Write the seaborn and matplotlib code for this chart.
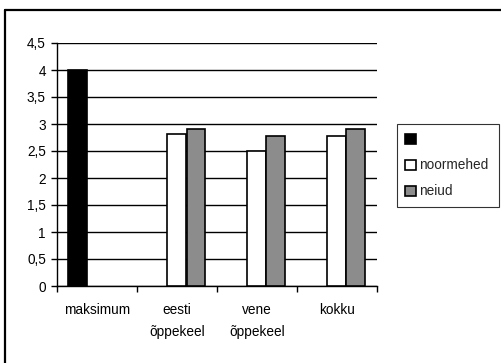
import matplotlib
matplotlib.use("Agg")
import matplotlib.pyplot as plt
from matplotlib.lines import Line2D
from matplotlib.patches import Patch
import seaborn as sns
import pandas as pd

categories = ["maksimum", "eesti\nõppekeel", "vene\nõppekeel", "kokku"]
series = ["", "noormehed", "neiud"]
maksimum = [4.0, None, None, None]
noormehed = [None, 2.82, 2.5, 2.78]
neiud = [None, 2.9, 2.78, 2.9]
yticks = [0, 0.5, 1, 1.5, 2, 2.5, 3, 3.5, 4, 4.5]
ytick_labels = ["0", "0,5", "1", "1,5", "2", "2,5", "3", "3,5", "4", "4,5"]
colors = ["#000000", "#ffffff", "#8c8c8c"]

rows = []
for name, vals in zip(series, [maksimum, noormehed, neiud]):
    for cat, v in zip(categories, vals):
        if v is not None:
            rows.append({"kategooria": cat, "rühm": name, "väärtus": v})
df = pd.DataFrame(rows)

sns.set_theme(style="white")
plt.rcParams["font.family"] = ["Liberation Sans", "DejaVu Sans"]
plt.rcParams["font.size"] = 10
FS = 9.8

W, H = 502, 363
fig = plt.figure(figsize=(W / 100, H / 100), dpi=100)
ax = fig.add_axes([57 / W, (H - 286) / H, 320 / W, 243 / H])

sns.barplot(data=df, x="kategooria", y="väärtus", hue="rühm",
            order=categories, hue_order=series, palette=colors,
            width=0.7125, edgecolor="black", linewidth=1.2,
            legend=False, ax=ax, zorder=3)

ax.set_xlim(-0.5, len(categories) - 0.5)
ax.set_ylim(0, 4.5)
ax.set_yticks(yticks)
ax.set_yticklabels(ytick_labels)
ax.yaxis.grid(True, color="black", linewidth=1.0, zorder=0)
ax.set_axisbelow(True)
ax.set_xlabel("")
ax.set_ylabel("")

# category ticks sit on group boundaries, labels at the group centres
ax.set_xticks([i - 0.5 for i in range(len(categories) + 1)], minor=False)
ax.set_xticklabels([""] * (len(categories) + 1))
ax.set_xticks(range(len(categories)), minor=True)
ax.set_xticklabels(categories, minor=True, linespacing=1.8, va="top")
ax.tick_params(axis="x", which="major", direction="out", length=4, width=1, color="black", bottom=True)
ax.tick_params(axis="x", which="minor", length=0, pad=12, labelsize=FS, labelcolor="black", bottom=True)
ax.tick_params(axis="y", direction="out", length=4, width=1, color="black", left=True,
               labelsize=FS, labelcolor="black", pad=4)

for side in ["top", "right"]:
    ax.spines[side].set_visible(False)
for side in ["left", "bottom"]:
    ax.spines[side].set_visible(True)
    ax.spines[side].set_color("black")
    ax.spines[side].set_linewidth(1.0)

handles = [Patch(facecolor=c, edgecolor="black", linewidth=1.2) for c in colors]
leg = fig.legend(handles, series, loc="upper left",
                 bbox_to_anchor=(397 / W, (H - 205) / H, 102 / W, 81 / H),
                 bbox_transform=fig.transFigure, mode="expand",
                 frameon=True, fancybox=False, shadow=False, fontsize=FS,
                 handlelength=0.75, handleheight=0.75, handletextpad=0.25,
                 labelspacing=0.88, borderpad=0.62, borderaxespad=0)
leg.get_frame().set_edgecolor("black")
leg.get_frame().set_linewidth(0.8)

# outer chart frame
fig.add_artist(Line2D([5 / W, 5 / W], [0, 1 - 9.5 / H], transform=fig.transFigure,
                      color="black", linewidth=1.6))
fig.add_artist(Line2D([5 / W, 1], [1 - 9.5 / H, 1 - 9.5 / H], transform=fig.transFigure,
                      color="black", linewidth=1.6))

fig.savefig("out.png", dpi=100, facecolor="white")
